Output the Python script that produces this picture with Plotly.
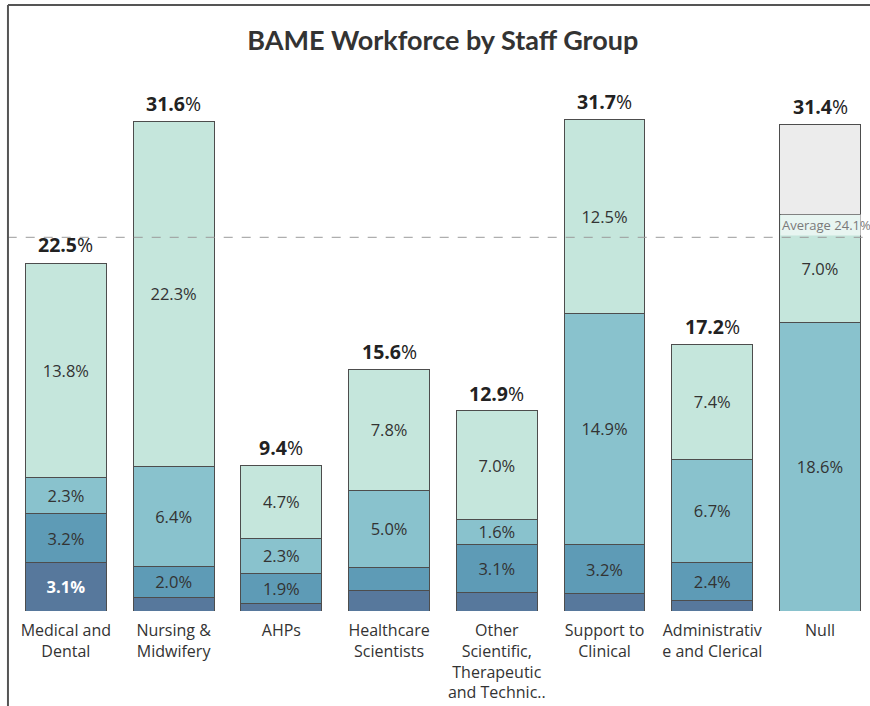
import plotly.graph_objects as go

# Staff groups and their axis labels
groups = ["Medical and Dental", "Nursing & Midwifery", "AHPs", "Healthcare Scientists",
          "Other Scientific, Therapeutic and Technic..", "Support to Clinical",
          "Administrative and Clerical", "Null"]
tick_labels = ["Medical and<br>Dental", "Nursing &<br>Midwifery", "AHPs", "Healthcare<br>Scientists",
               "Other<br>Scientific,<br>Therapeutic<br>and Technic..", "Support to<br>Clinical",
               "Administrativ<br>e and Clerical", "Null"]

# BAME share (%) by segment, stacked bottom to top
band_a = [3.1, 0.9, 0.5, 1.3, 1.2, 1.1, 0.7, 0.0]
band_b = [3.2, 2.0, 1.9, 1.5, 3.1, 3.2, 2.4, 0.0]
band_c = [2.3, 6.4, 2.3, 5.0, 1.6, 14.9, 6.7, 18.6]
band_d = [13.8, 22.3, 4.7, 7.8, 7.0, 12.5, 7.4, 7.0]
band_null = [0.0, 0.0, 0.0, 0.0, 0.0, 0.0, 0.0, 5.8]
totals = [22.5, 31.6, 9.4, 15.6, 12.9, 31.7, 17.2, 31.4]
average = 24.1

series = [
    (band_a, "#57789c", "white", True),
    (band_b, "#5e9bb6", "#333333", False),
    (band_c, "#89c2cd", "#333333", False),
    (band_d, "#c5e6dc", "#333333", False),
]

fig = go.Figure()
for vals, color, tcolor, bold in series:
    labels = []
    for v in vals:
        if v >= 1.55:
            s = f"{v:.1f}%"
            labels.append(f"<b>{s}</b>" if bold else s)
        else:
            labels.append("")
    fig.add_trace(go.Bar(
        x=groups, y=vals, marker=dict(color=color, line=dict(color="#4d4d4d", width=1)),
        text=labels, textposition="inside", insidetextanchor="middle", textangle=0,
        textfont=dict(family="Open Sans", size=16.5, color=tcolor),
        hoverinfo="skip", showlegend=False,
    ))
fig.add_trace(go.Bar(
    x=groups, y=band_null, marker=dict(color="#ececec", line=dict(color="#4d4d4d", width=1)),
    hoverinfo="skip", showlegend=False,
))

# Bar totals
for g, t in zip(groups, totals):
    fig.add_annotation(x=g, y=t, xref="x", yref="y", text=f"<b>{t:.1f}</b>%",
                       showarrow=False, yanchor="bottom", yshift=2,
                       font=dict(family="Open Sans", size=19.5, color="#222222"))

# Average reference line
fig.add_shape(type="line", xref="paper", yref="y", x0=-0.005, x1=1, y0=average, y1=average,
              line=dict(color="#9a9a9a", width=1, dash="dash"))
fig.add_annotation(xref="paper", yref="y", x=1.004, y=average, xanchor="right", yanchor="bottom",
                   text=f"Average {average}%", showarrow=False, yshift=1,
                   font=dict(family="Open Sans", size=13, color="#7a7a7a"),
                   bgcolor="rgba(255,255,255,0.6)", borderpad=1)

# Dashboard frame
fig.add_shape(type="line", xref="paper", yref="paper", x0=-0.0047, x1=-0.0047, y0=-0.2, y1=1.163,
              line=dict(color="#555555", width=2))
fig.add_shape(type="line", xref="paper", yref="paper", x0=-0.0047, x1=1.01, y0=1.163, y1=1.163,
              line=dict(color="#555555", width=2))

fig.update_layout(
    width=870, height=706,
    margin=dict(l=12, r=0, t=90, b=95),
    paper_bgcolor="white", plot_bgcolor="white",
    barmode="stack", bargap=0.25,
    uniformtext=dict(minsize=16.5, mode="show"),
    title=dict(text="<b>BAME Workforce by Staff Group</b>", x=0.509, xanchor="center",
               y=0.943, yanchor="middle",
               font=dict(family="Lato", size=27, color="#333333")),
    xaxis=dict(range=[-0.5, 7.464], tickmode="array", tickvals=groups, ticktext=tick_labels,
               showgrid=False, zeroline=False, showline=False, ticks="", ticklabelstandoff=8,
               tickfont=dict(family="Open Sans", size=16, color="#333333")),
    yaxis=dict(range=[0, 33.6], visible=False, showgrid=False, zeroline=False),
)

fig.write_html("out.html")
